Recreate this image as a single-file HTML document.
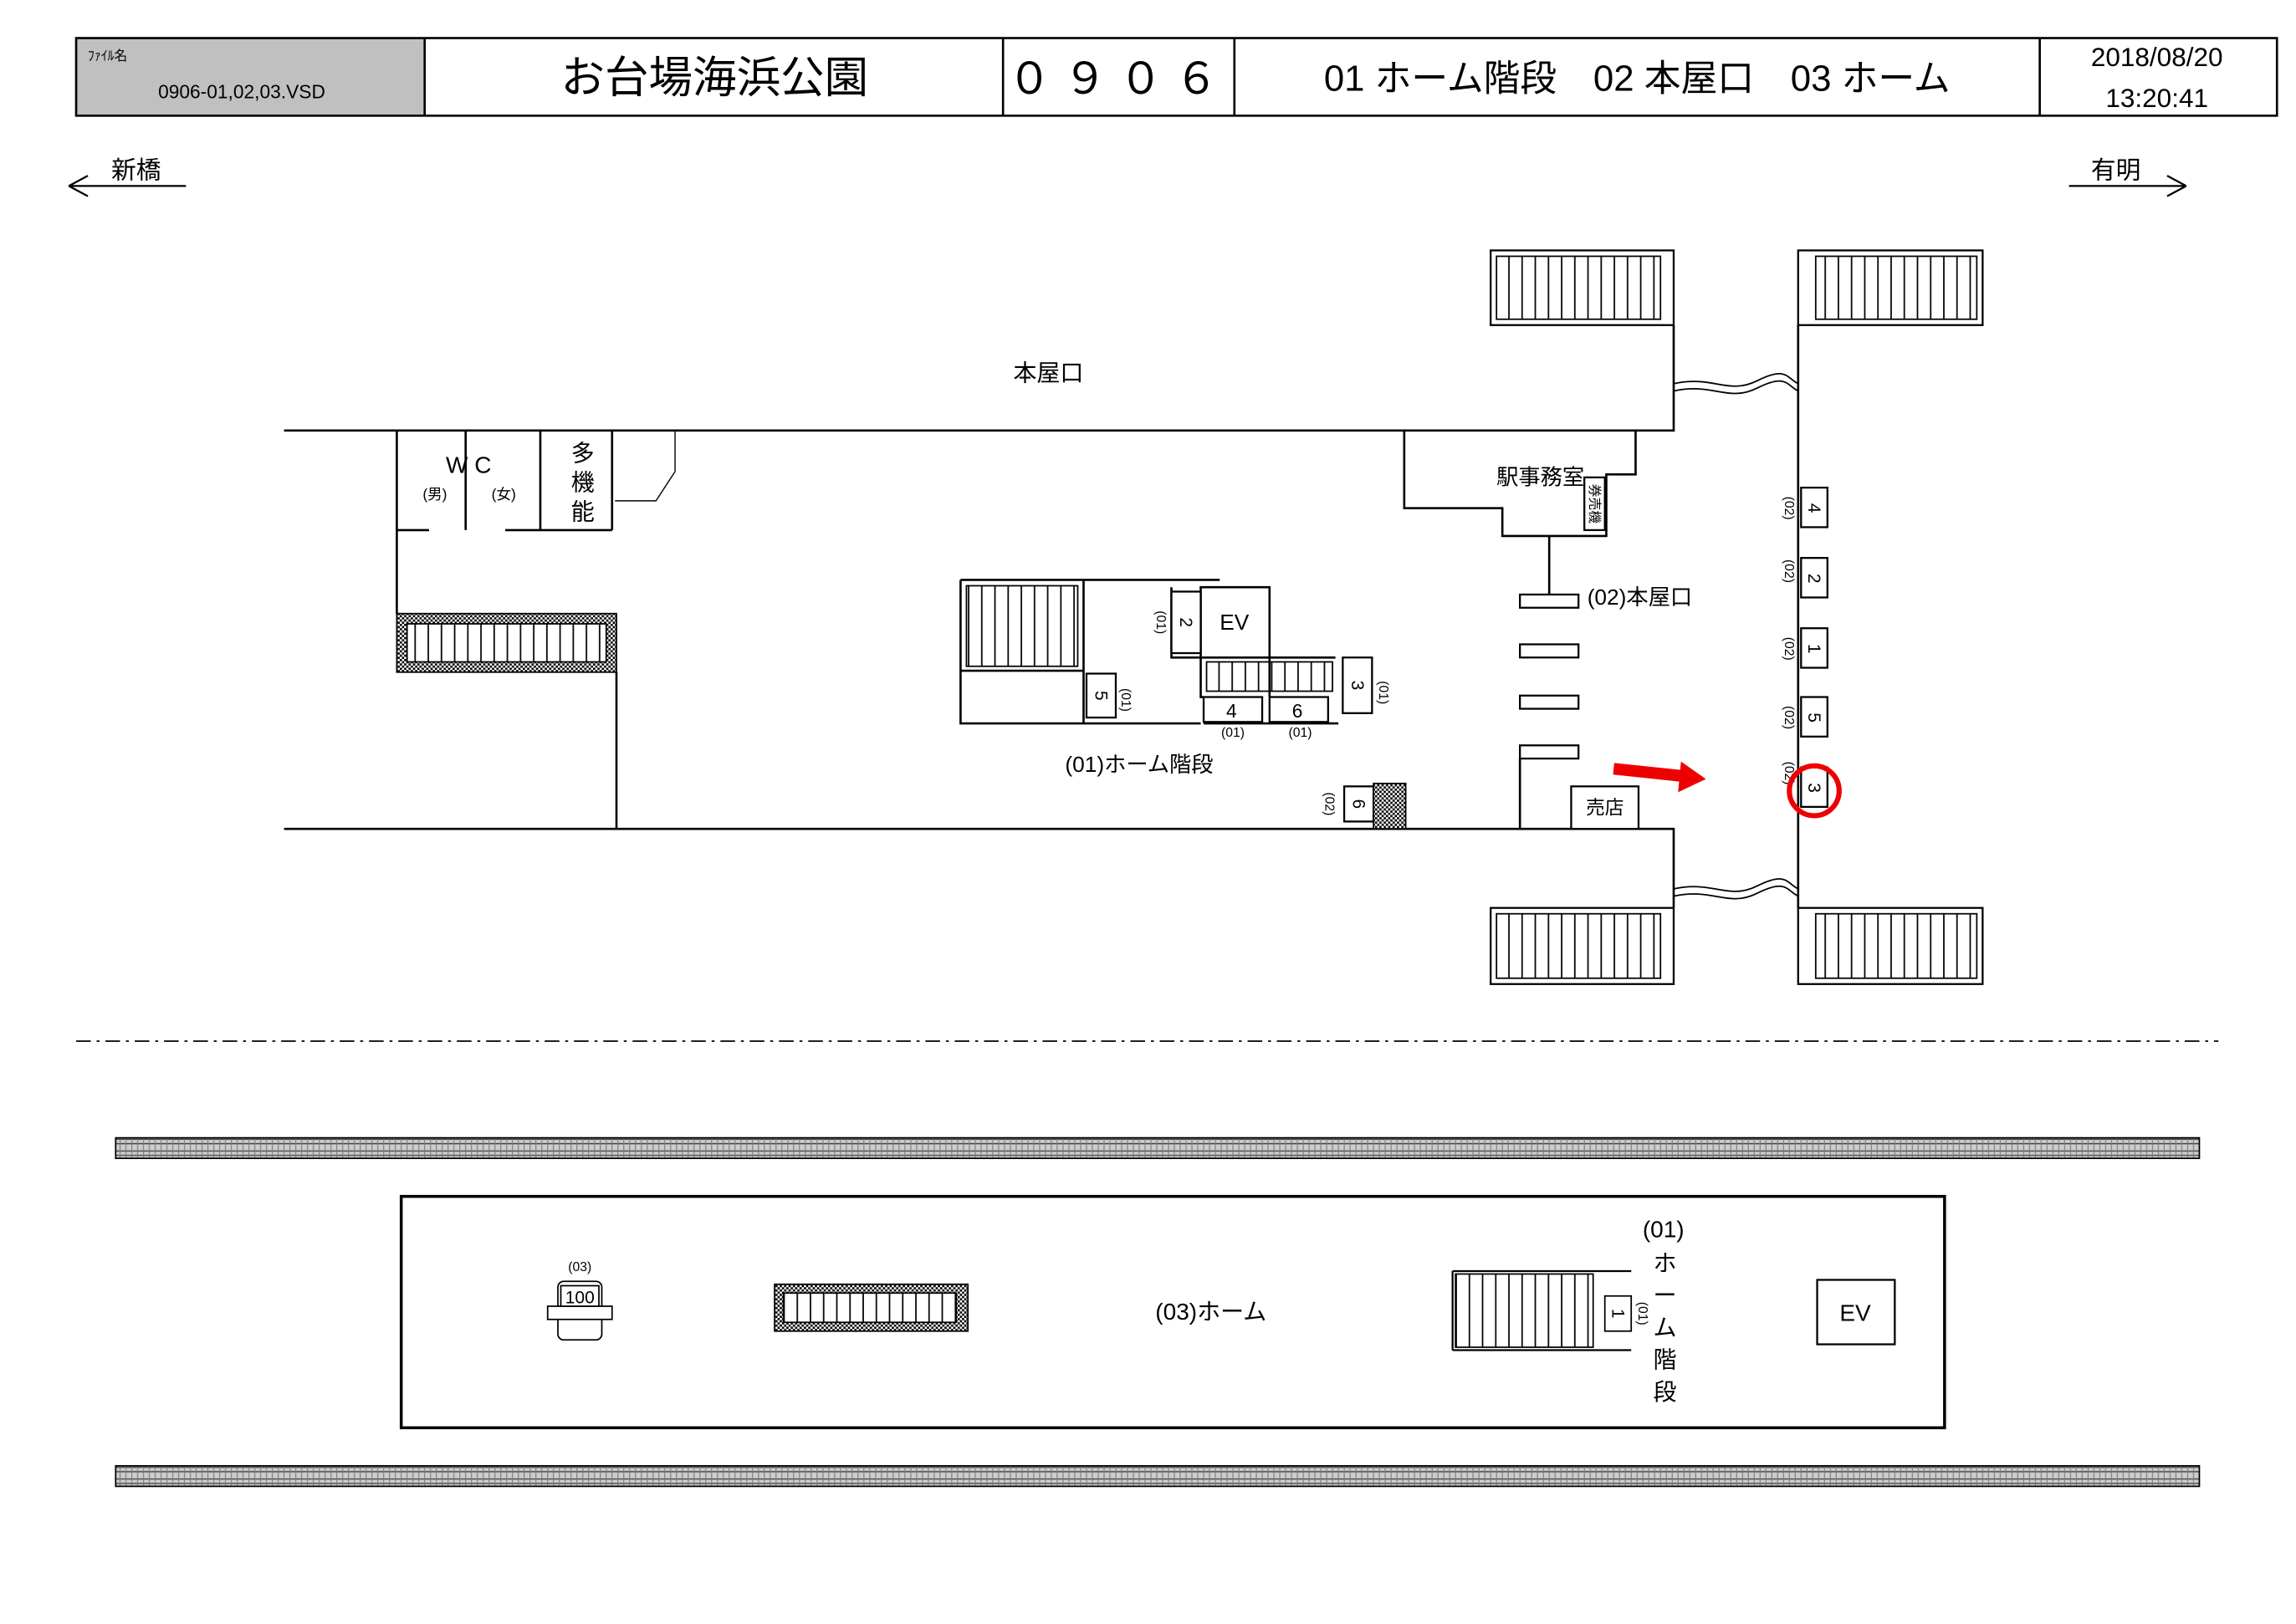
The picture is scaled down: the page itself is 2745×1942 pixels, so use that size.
<!DOCTYPE html>
<html><head><meta charset="utf-8"><style>
html,body{margin:0;padding:0;background:#fff;}
svg{display:block;}
text{font-family:"Liberation Sans","Noto Sans CJK JP",sans-serif;fill:#000;}
</style></head><body>
<svg width="2745" height="1942" viewBox="0 0 1568 1109" preserveAspectRatio="none" xmlns="http://www.w3.org/2000/svg">
<defs>
<pattern id="hp" width="3" height="3" patternUnits="userSpaceOnUse"><rect width="3" height="3" fill="#fff"/><rect width="1.5" height="1.5" fill="#000"/><rect x="1.5" y="1.5" width="1.5" height="1.5" fill="#000"/></pattern>
<pattern id="tr" width="4" height="14" patternUnits="userSpaceOnUse"><rect width="4" height="14" fill="#ccc"/><path d="M0 2H4M0 5H4M0 8H4M0 11H4" stroke="#444" stroke-width="0.8"/><path d="M2 0V14" stroke="#777" stroke-width="0.6"/></pattern>
<pattern id="st" width="9" height="10" patternUnits="userSpaceOnUse"><path d="M4.5 0V10" stroke="#000" stroke-width="1"/></pattern>
</defs>
<rect width="1568" height="1109" fill="#fff"/>
<rect x="52" y="26" width="238" height="53" fill="#c0c0c0"/>
<rect x="52" y="26" width="1503" height="53" fill="none" stroke="#000" stroke-width="1.5"/>
<path d="M290 26V79M685 26V79M843 26V79M1393 26V79" stroke="#000" stroke-width="1.5"/>
<text x="60" y="41" font-size="9">ﾌｧｲﾙ名</text>
<text x="108" y="67" font-size="13">0906-01,02,03.VSD</text>
<text x="488" y="63" font-size="30" text-anchor="middle">お台場海浜公園</text>
<text x="764" y="64" font-size="30" text-anchor="middle" letter-spacing="8">０９０６</text>
<text x="1118" y="62" font-size="25" text-anchor="middle">01 ホーム階段　02 本屋口　03 ホーム</text>
<text x="1473" y="45" font-size="18" text-anchor="middle">2018/08/20</text>
<text x="1473" y="73" font-size="18" text-anchor="middle">13:20:41</text>
<path d="M47 127H127M47 127L60 120M47 127L60 134" stroke="#000" fill="none" stroke-width="1.3"/>
<text x="93" y="122" font-size="17" text-anchor="middle">新橋</text>
<path d="M1413 127H1493M1493 127L1480 120M1493 127L1480 134" stroke="#000" fill="none" stroke-width="1.3"/>
<text x="1445" y="122" font-size="17" text-anchor="middle">有明</text>
<g stroke="#000" fill="none" stroke-width="1.5">
<path d="M194 294H1143V222M194 566H1143V620M1228 222V620"/>
<path d="M1143 262C1170 256 1180 270 1200 260S1220 258 1228 262M1143 267C1170 261 1180 275 1200 265S1220 263 1228 267" stroke-width="1"/>
<path d="M1143 607C1170 601 1180 615 1200 605S1220 603 1228 607M1143 612C1170 606 1180 620 1200 610S1220 608 1228 612" stroke-width="1"/>
<path d="M271 294V419M271 362H293M345 362H418M318 294V362M369 294V362M418 294V362M421 459V566"/>
<path d="M418 294H461V322L448 342H420" stroke-width="0.8"/>
<path d="M959 294V347H1026V366H1097V324H1117V294"/>
<path d="M1058 366V406"/>
<path d="M1038 518V566"/>
<path d="M656 396H833M656 396V494H820M740 396V494M656 458H740"/>
<path d="M800 401V449H867V401H820V449M820 449V476H822M912 449H867V476"/>
<path d="M822 494H914"/>
</g>
<rect x="271" y="419" width="150" height="40" fill="url(#hp)" stroke="#000"/>
<rect x="278" y="426" width="136" height="26" fill="#fff" stroke="#000"/>
<rect x="278" y="426" width="136" height="26" fill="url(#st)"/>
<g fill="#fff" stroke="#000" stroke-width="1.3">
<rect x="1018" y="171" width="125" height="51"/><rect x="1228" y="171" width="126" height="51"/>
<rect x="1018" y="620" width="125" height="52"/><rect x="1228" y="620" width="126" height="52"/>
</g>
<g fill="url(#st)" stroke="#000">
<rect x="1022" y="175" width="112" height="43"/><rect x="1240" y="175" width="110" height="43"/>
<rect x="1022" y="624" width="112" height="44"/><rect x="1240" y="624" width="110" height="44"/>
<rect x="660" y="400" width="76" height="55"/>
<rect x="824" y="452" width="86" height="20"/>
<rect x="994" y="870" width="94" height="50"/>
</g>
<g fill="#fff" stroke="#000" stroke-width="1.3">
<rect x="1038" y="406" width="40" height="9"/><rect x="1038" y="440" width="40" height="9"/>
<rect x="1038" y="475" width="40" height="9"/><rect x="1038" y="509" width="40" height="9"/>
<rect x="1073" y="537" width="46" height="29"/>
<rect x="1230" y="333" width="18" height="27"/><rect x="1230" y="381" width="18" height="27"/>
<rect x="1230" y="429" width="18" height="27"/><rect x="1230" y="476" width="18" height="27"/>
<rect x="1230" y="524" width="18" height="27"/>
<rect x="1082" y="326" width="14" height="36"/>
<rect x="742" y="460" width="20" height="30"/>
<rect x="800" y="404" width="20" height="42"/>
<rect x="917" y="449" width="20" height="38"/>
<rect x="822" y="476" width="40" height="17"/><rect x="867" y="476" width="40" height="17"/>
<rect x="918" y="537" width="20" height="24"/>
</g>
<rect x="938" y="535" width="22" height="31" fill="url(#hp)" stroke="#000"/>
<text x="843" y="430" font-size="15" text-anchor="middle">EV</text>
<text x="841" y="490" font-size="13" text-anchor="middle">4</text>
<text x="886" y="490" font-size="13" text-anchor="middle">6</text>
<text x="842" y="503" font-size="9" text-anchor="middle">(01)</text>
<text x="888" y="503" font-size="9" text-anchor="middle">(01)</text>
<g font-size="12" text-anchor="middle">
<text transform="translate(1239,347) rotate(90)" y="4">4</text>
<text transform="translate(1239,395) rotate(90)" y="4">2</text>
<text transform="translate(1239,443) rotate(90)" y="4">1</text>
<text transform="translate(1239,490) rotate(90)" y="4">5</text>
<text transform="translate(1239,538) rotate(90)" y="4">3</text>
<text transform="translate(752,475) rotate(90)" y="4">5</text>
<text transform="translate(810,425) rotate(90)" y="4">2</text>
<text transform="translate(927,468) rotate(90)" y="4">3</text>
<text transform="translate(928,549) rotate(90)" y="4">6</text>
<text transform="translate(1105,897) rotate(90)" y="4">1</text>
</g>
<g font-size="9" text-anchor="middle">
<text transform="translate(1222,347) rotate(90)" y="3">(02)</text>
<text transform="translate(1222,390) rotate(90)" y="3">(02)</text>
<text transform="translate(1222,443) rotate(90)" y="3">(02)</text>
<text transform="translate(1222,490) rotate(90)" y="3">(02)</text>
<text transform="translate(1222,528) rotate(90)" y="3">(02)</text>
<text transform="translate(769,478) rotate(90)" y="3">(01)</text>
<text transform="translate(793,425) rotate(90)" y="3">(01)</text>
<text transform="translate(945,473) rotate(90)" y="3">(01)</text>
<text transform="translate(908,549) rotate(90)" y="3">(02)</text>
<text transform="translate(1122,897) rotate(90)" y="3">(01)</text>
<text transform="translate(1089,344) rotate(90)" y="3">券売機</text>
</g>
<text x="716" y="260" font-size="16" text-anchor="middle">本屋口</text>
<text x="320" y="323" font-size="16" text-anchor="middle">W C</text>
<text x="297" y="341" font-size="10" text-anchor="middle">(男)</text>
<text x="344" y="341" font-size="10" text-anchor="middle">(女)</text>
<text x="398" y="315" font-size="16" text-anchor="middle">多</text>
<text x="398" y="335" font-size="16" text-anchor="middle">機</text>
<text x="398" y="355" font-size="16" text-anchor="middle">能</text>
<text x="1052" y="331" font-size="15" text-anchor="middle">駅事務室</text>
<text x="1084" y="413" font-size="15">(02)本屋口</text>
<text x="1096" y="556" font-size="13" text-anchor="middle">売店</text>
<text x="778" y="527" font-size="15" text-anchor="middle">(01)ホーム階段</text>
<path d="M1102 525L1150 530" stroke="#e00" stroke-width="8"/>
<path d="M1165 532L1148 520L1146 541Z" fill="#e00"/>
<circle cx="1239" cy="540" r="17" fill="none" stroke="#e00" stroke-width="3.5"/>
<path d="M52 711H1515" stroke="#000" stroke-width="1" stroke-dasharray="10,4,2,4"/>
<rect x="79" y="777" width="1423" height="14" fill="url(#tr)" stroke="#000"/>
<rect x="79" y="1001" width="1423" height="14" fill="url(#tr)" stroke="#000"/>
<rect x="274" y="817" width="1054" height="158" fill="none" stroke="#000" stroke-width="2"/>
<rect x="529" y="877" width="132" height="32" fill="url(#hp)" stroke="#000"/>
<rect x="535" y="883" width="118" height="20" fill="#fff" stroke="#000"/>
<rect x="535" y="883" width="118" height="20" fill="url(#st)"/>
<path d="M992 868H1114M992 922H1114M992 868V922" stroke="#000" stroke-width="1.3" fill="none"/>
<rect x="1096" y="885" width="18" height="24" fill="#fff" stroke="#000"/>
<text transform="translate(1105,897) rotate(90)" y="4" font-size="12" text-anchor="middle">1</text>
<rect x="1241" y="874" width="53" height="44" fill="#fff" stroke="#000" stroke-width="1.3"/>
<text x="1267" y="902" font-size="16" text-anchor="middle">EV</text>
<text x="827" y="901" font-size="16" text-anchor="middle">(03)ホーム</text>
<text x="1136" y="845" font-size="16" text-anchor="middle">(01)</text>
<text x="1137" y="868" font-size="16" text-anchor="middle">ホ</text>
<text x="1137" y="890" font-size="16" text-anchor="middle">ー</text>
<text x="1137" y="912" font-size="16" text-anchor="middle">ム</text>
<text x="1137" y="934" font-size="16" text-anchor="middle">階</text>
<text x="1137" y="956" font-size="16" text-anchor="middle">段</text>
<text x="396" y="868" font-size="9" text-anchor="middle">(03)</text>
<rect x="381" y="875" width="30" height="40" rx="4" fill="#fff" stroke="#000"/>
<rect x="374" y="892" width="44" height="9" fill="#fff" stroke="#000"/>
<rect x="383" y="878" width="26" height="14" fill="#fff" stroke="#000"/>
<text x="396" y="890" font-size="12" text-anchor="middle">100</text>
</svg>
</body></html>
